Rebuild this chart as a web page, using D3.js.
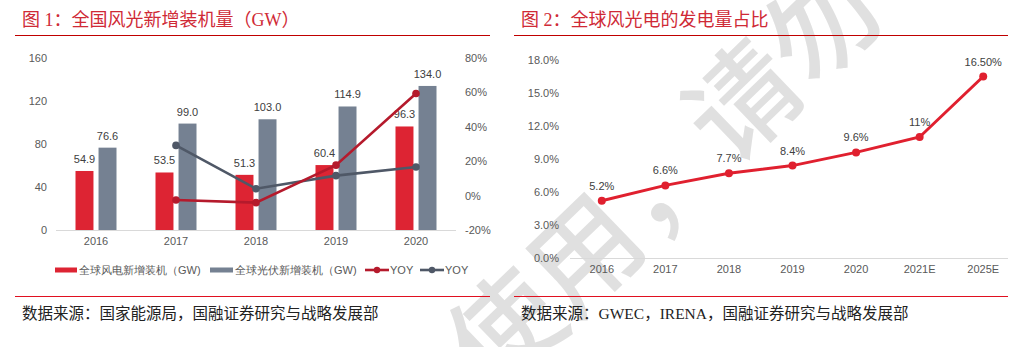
<!DOCTYPE html>
<html><head><meta charset="utf-8">
<script src="https://cdn.jsdelivr.net/npm/d3@7/dist/d3.min.js"></script>
<style>
html,body{margin:0;padding:0;background:#fff;}
svg{display:block;}
.tk text{font-family:"Liberation Sans",Arial,sans-serif;font-size:11px;fill:#595959;}
</style></head>
<body><svg id="c" width="1033" height="347"></svg>
<script>
// ---------- data ----------
const years = ['2016','2017','2018','2019','2020'];
const windNew = [54.9, 53.5, 51.3, 60.4, 96.3];
const solarNew = [76.6, 99.0, 103.0, 114.9, 134.0];
const windYoy = [null, -2.6, -4.1, 17.7, 59.4];
const solarYoy = [null, 29.2, 4.0, 11.6, 16.6];
const leftTicks = [0, 40, 80, 120, 160];
const rightTicks = [-20, 0, 20, 40, 60, 80];
const shareYears = ['2016','2017','2018','2019','2020','2021E','2025E'];
const shareVals = [5.2, 6.6, 7.7, 8.4, 9.6, 11, 16.5];
const shareLabels = ['5.2%','6.6%','7.7%','8.4%','9.6%','11%','16.50%'];
const shareTicks = [0, 3, 6, 9, 12, 15, 18];
const title1 = '图 1：全国风光新增装机量（GW）';
const title2 = '图 2：全球风光电的发电量占比';
const src1 = '数据来源：国家能源局，国融证券研究与战略发展部';
const src2 = '数据来源：GWEC，IRENA，国融证券研究与战略发展部';
const legendItems = ['全球风电新增装机（GW)', '全球光伏新增装机（GW)', 'YOY', 'YOY'];
const watermark = '使用，请勿';

const C = {wind:'#dd2433', solar:'#758192', windLine:'#b51a2c', solarLine:'#4f5867', title:'#cf2a36', rule:'#c00000', rule2:'#e01020', grid:'#d9d9d9', txt:'#404040'};
const SANS = '"Liberation Sans",Arial,sans-serif';
const CJK = '"Noto Sans CJK SC",sans-serif';
const SERIF = '"Liberation Serif","Noto Sans CJK SC",serif';

const svg = d3.select('#c');

// watermark
svg.append('text').attr('x', 658).attr('y', 172)
  .attr('transform', 'rotate(-44,658,172)')
  .attr('text-anchor', 'middle').attr('dominant-baseline', 'central')
  .style('font-family', CJK).style('font-size', '110px').style('font-weight', 500)
  .style('fill', '#e0e0e0').text(watermark);

// ---------- panel 1 ----------
const g1 = svg.append('g');
g1.append('text').attr('x', 22).attr('y', 26).style('font-family', SERIF).style('font-size', '18px')
  .style('fill', C.title).text(title1);
g1.append('line').attr('x1', 15).attr('x2', 490).attr('y1', 35.5).attr('y2', 35.5).attr('stroke', C.rule).attr('stroke-width', 1.2);
g1.append('line').attr('x1', 15).attr('x2', 490).attr('y1', 296.5).attr('y2', 296.5).attr('stroke', C.rule2).attr('stroke-width', 1.2);
g1.append('text').attr('x', 22).attr('y', 319).style('font-family', SERIF).style('font-size', '15.5px')
  .style('fill', '#222').text(src1);

const x1 = d3.scaleBand().domain(years).range([56, 456]);
const xs = d3.scaleBand().domain(['wind','solar']).range([-20.5, 20.5]).paddingInner(0.22);
const yL = d3.scaleLinear().domain([0, 160]).range([230, 58]);
const yR = d3.scaleLinear().domain([-20, 80]).range([230, 58]);
const cx = d => x1(d) + x1.bandwidth()/2;

g1.append('line').attr('x1', 56).attr('x2', 456).attr('y1', 230.5).attr('y2', 230.5).attr('stroke', C.grid);

const axL = g1.append('g').attr('class','tk').attr('transform','translate(47,0)')
  .call(d3.axisLeft(yL).tickValues(leftTicks).tickSize(0).tickPadding(0));
const axR = g1.append('g').attr('class','tk').attr('transform','translate(465,0)')
  .call(d3.axisRight(yR).tickValues(rightTicks).tickSize(0).tickPadding(0).tickFormat(d => d + '%'));
const axB = g1.append('g').attr('class','tk').attr('transform','translate(0,237)')
  .call(d3.axisBottom(x1).tickSize(0).tickPadding(0));
[axL, axR, axB].forEach(a => a.select('.domain').remove());

const bars = g1.append('g');
years.forEach((yr, i) => {
  [['wind', windNew[i], C.wind], ['solar', solarNew[i], C.solar]].forEach(([k, v, col]) => {
    const bx = cx(yr) + xs(k);
    bars.append('rect').attr('x', bx).attr('width', xs.bandwidth())
      .attr('y', yL(v)).attr('height', yL(0) - yL(v)).attr('fill', col);
    bars.append('text').attr('x', bx + xs.bandwidth()/2).attr('y', yL(v) - 8)
      .attr('text-anchor', 'middle').style('font-family', SANS).style('font-size', '11px')
      .style('fill', C.txt).text(v.toFixed(1));
  });
});

function yoyLine(vals, col) {
  const pts = years.map((yr, i) => [yr, vals[i]]).filter(p => p[1] !== null);
  const line = d3.line().x(p => cx(p[0])).y(p => yR(p[1]));
  g1.append('path').attr('d', line(pts)).attr('fill', 'none').attr('stroke', col).attr('stroke-width', 2.6);
  g1.selectAll(null).data(pts).enter().append('circle')
    .attr('cx', p => cx(p[0])).attr('cy', p => yR(p[1])).attr('r', 3.8).attr('fill', col);
}
yoyLine(solarYoy, C.solarLine);
yoyLine(windYoy, C.windLine);

// legend
const lg = g1.append('g').style('font-family', SANS).style('font-size', '11px');
const ly = 270;
lg.append('rect').attr('x', 55).attr('y', ly - 2.5).attr('width', 22).attr('height', 5).attr('fill', C.wind);
lg.append('text').attr('x', 79).attr('y', ly + 4).style('fill', '#595959').text(legendItems[0]);
lg.append('rect').attr('x', 210).attr('y', ly - 2.5).attr('width', 23).attr('height', 5).attr('fill', C.solar);
lg.append('text').attr('x', 235).attr('y', ly + 4).style('fill', '#595959').text(legendItems[1]);
[[365, C.windLine, legendItems[2]], [420, C.solarLine, legendItems[3]]].forEach(([lx, col, t]) => {
  lg.append('line').attr('x1', lx).attr('x2', lx + 24).attr('y1', ly).attr('y2', ly).attr('stroke', col).attr('stroke-width', 2.6);
  lg.append('circle').attr('cx', lx + 12).attr('cy', ly).attr('r', 3.2).attr('fill', col);
  lg.append('text').attr('x', lx + 25).attr('y', ly + 4).style('fill', '#595959').text(t);
});

// ---------- panel 2 ----------
const g2 = svg.append('g');
g2.append('text').attr('x', 521).attr('y', 26).style('font-family', SERIF).style('font-size', '18px')
  .style('fill', C.title).text(title2);
g2.append('line').attr('x1', 514).attr('x2', 1008).attr('y1', 35.5).attr('y2', 35.5).attr('stroke', C.rule).attr('stroke-width', 1.2);
g2.append('line').attr('x1', 514).attr('x2', 1008).attr('y1', 296.5).attr('y2', 296.5).attr('stroke', C.rule2).attr('stroke-width', 1.2);
g2.append('text').attr('x', 521).attr('y', 319).style('font-family', SERIF).style('font-size', '15.5px')
  .style('fill', '#222').text(src2);

const x2 = d3.scaleBand().domain(shareYears).range([570, 1015]);
const y2 = d3.scaleLinear().domain([0, 18]).range([258, 60]);
const cx2 = d => x2(d) + x2.bandwidth()/2;

g2.append('line').attr('x1', 570).attr('x2', 1008).attr('y1', 258.5).attr('y2', 258.5).attr('stroke', C.grid);
const ax2L = g2.append('g').attr('class','tk').attr('transform','translate(559,0)')
  .call(d3.axisLeft(y2).tickValues(shareTicks).tickSize(0).tickPadding(0).tickFormat(d => d.toFixed(1) + '%'));
const ax2B = g2.append('g').attr('class','tk').attr('transform','translate(0,265)')
  .call(d3.axisBottom(x2).tickSize(0).tickPadding(0));
[ax2L, ax2B].forEach(a => a.select('.domain').remove());

const pts2 = shareYears.map((yr, i) => [yr, shareVals[i], shareLabels[i]]);
g2.append('path').attr('d', d3.line().x(p => cx2(p[0])).y(p => y2(p[1]))(pts2))
  .attr('fill', 'none').attr('stroke', '#e0202f').attr('stroke-width', 3);
g2.selectAll(null).data(pts2).enter().append('circle')
  .attr('cx', p => cx2(p[0])).attr('cy', p => y2(p[1])).attr('r', 4).attr('fill', '#e0202f');
g2.selectAll(null).data(pts2).enter().append('text')
  .attr('x', p => cx2(p[0])).attr('y', p => y2(p[1]) - 11).attr('text-anchor', 'middle')
  .style('font-family', SANS).style('font-size', '11px').style('fill', C.txt).text(p => p[2]);
</script></body></html>
